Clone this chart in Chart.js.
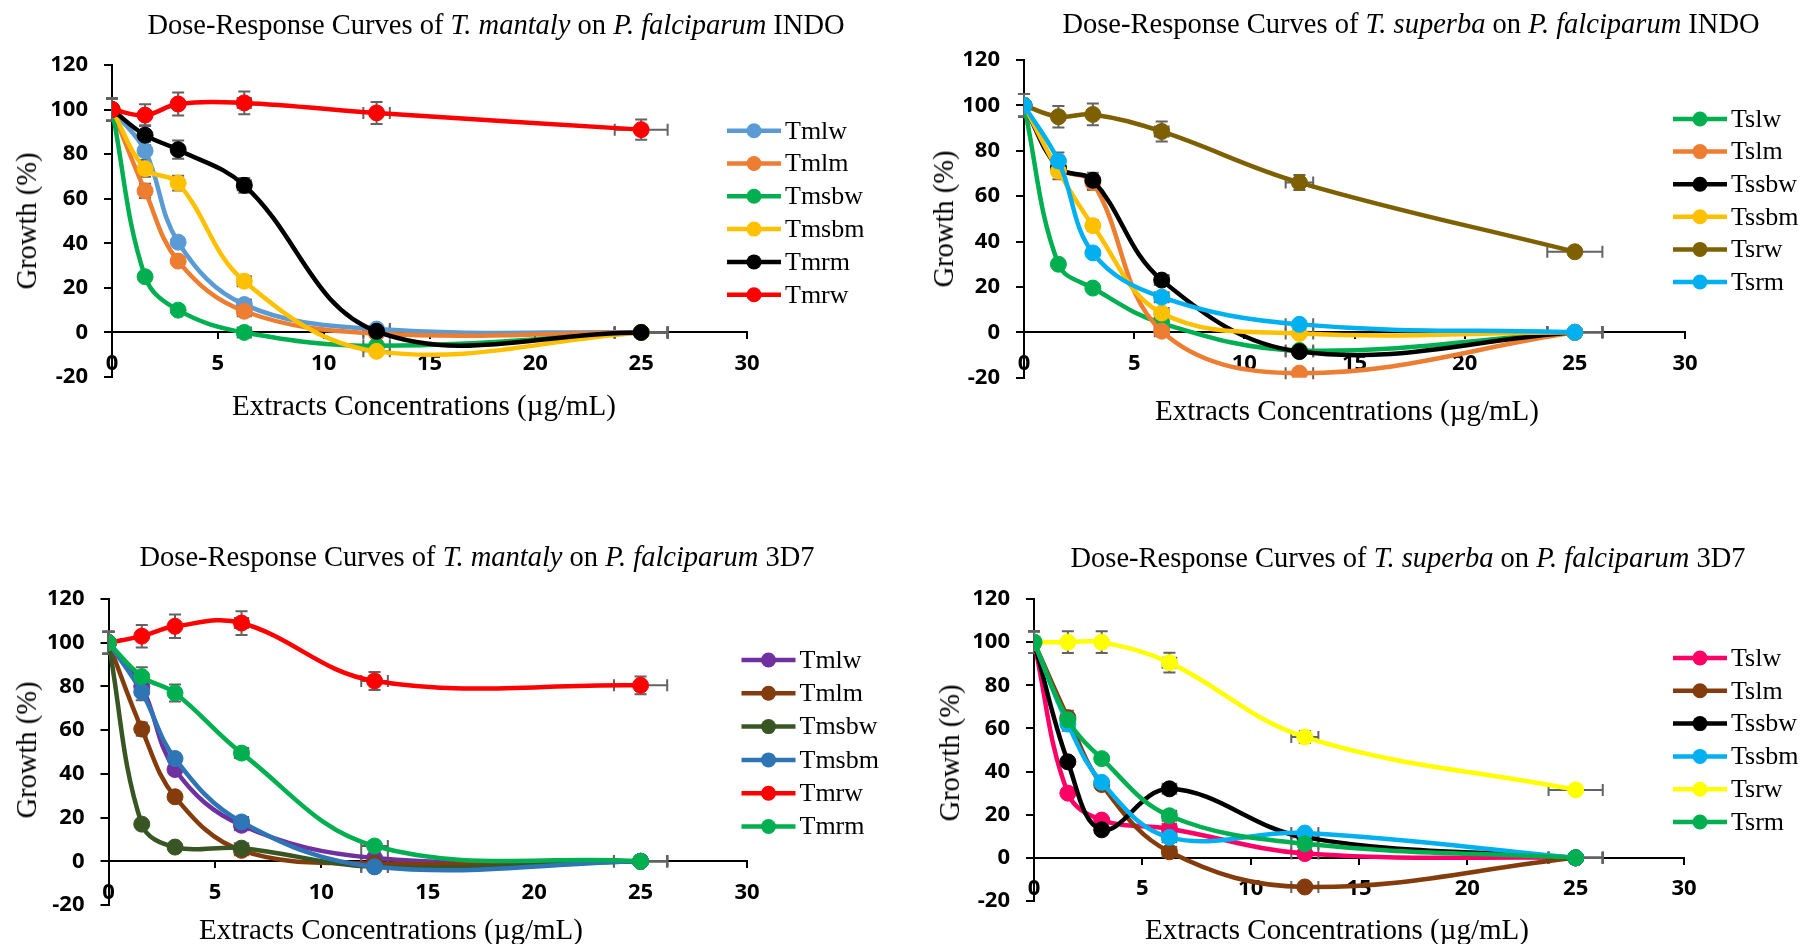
<!DOCTYPE html>
<html>
<head>
<meta charset="utf-8">
<script src="https://cdn.jsdelivr.net/npm/chart.js@4.4.1/dist/chart.umd.min.js"></script>
<style>
  body { margin: 0; width: 1803px; height: 944px; overflow: hidden; background: #fff; position: relative; }
  canvas { position: absolute; }
  .lbl { position: absolute; white-space: nowrap; font-family: "Liberation Serif", "Times New Roman", serif; font-size: 28.5px; line-height: 28px; color: #000; transform: translateX(-50%); }
  .xtitle { font-size: 29px; }
  .ytitle { transform: translate(-50%, -50%) rotate(-90deg); }
</style>
</head>
<body>
<canvas id="c1" width="900" height="470" style="left:0;top:0"></canvas>
<canvas id="c2" width="903" height="470" style="left:900px;top:0"></canvas>
<canvas id="c3" width="900" height="474" style="left:0;top:470px"></canvas>
<canvas id="c4" width="903" height="474" style="left:900px;top:470px"></canvas>

<div class="lbl" style="left:496px;top:11px">Dose-Response Curves of <i>T. mantaly</i> on <i>P. falciparum</i> INDO</div>
<div class="lbl" style="left:1411px;top:10px">Dose-Response Curves of <i>T. superba</i> on <i>P. falciparum</i> INDO</div>
<div class="lbl" style="left:477px;top:543px">Dose-Response Curves of <i>T. mantaly</i> on <i>P. falciparum</i> 3D7</div>
<div class="lbl" style="left:1408px;top:544px">Dose-Response Curves of <i>T. superba</i> on <i>P. falciparum</i> 3D7</div>

<div class="lbl xtitle" style="left:424px;top:391px">Extracts Concentrations (µg/mL)</div>
<div class="lbl xtitle" style="left:1347px;top:396px">Extracts Concentrations (µg/mL)</div>
<div class="lbl xtitle" style="left:391px;top:915px">Extracts Concentrations (µg/mL)</div>
<div class="lbl xtitle" style="left:1337px;top:915px">Extracts Concentrations (µg/mL)</div>

<div class="lbl ytitle" style="left:27px;top:221px">Growth (%)</div>
<div class="lbl ytitle" style="left:944px;top:219px">Growth (%)</div>
<div class="lbl ytitle" style="left:27px;top:750px">Growth (%)</div>
<div class="lbl ytitle" style="left:950px;top:753px">Growth (%)</div>

<script>
// Data
const concentrations = [0, 1.5625, 3.125, 6.25, 12.5, 25];
const xTickLabels = [0, 5, 10, 15, 20, 25, 30];
const yTickLabels = [-20, 0, 20, 40, 60, 80, 100, 120];

// T. mantaly on INDO
const mantalyIndoNames = ['Tmlw', 'Tmlm', 'Tmsbw', 'Tmsbm', 'Tmrm', 'Tmrw'];
const indoTmlw = [100, 81.5, 40.5, 12.5, 1.5, 0];
const indoTmlm = [100, 63.5, 32, 9.5, -0.5, 0];
const indoTmsbw = [100, 25, 10, 0, -6, 0];
const indoTmsbm = [100, 73.5, 67, 23, -8.5, 0];
const indoTmrm = [100, 88.5, 82, 66, 0.5, 0];
const indoTmrw = [100, 97.5, 102.5, 103, 98.5, 91];

// T. superba on INDO
const superbaIndoNames = ['Tslw', 'Tslm', 'Tssbw', 'Tssbm', 'Tsrw', 'Tsrm'];
const indoTslw = [100, 30, 19.5, 4, -8, 0];
const indoTslm = [100, 72.5, 66, 0.5, -18, 0];
const indoTssbw = [100, 72.5, 67, 23, -8.5, 0];
const indoTssbm = [100, 71, 47, 8.5, -0.5, 0];
const indoTsrw = [100, 95, 96, 88.5, 66, 35.5];
const indoTsrm = [100, 75.5, 35, 15.5, 3.5, 0];

// T. mantaly on 3D7
const mantaly3d7Names = ['Tmlw', 'Tmlm', 'Tmsbw', 'Tmsbm', 'Tmrw', 'Tmrm'];
const d7Tmlw = [100, 80, 42, 16.5, 1.5, 0];
const d7Tmlm = [100, 60.5, 29.5, 5, -1, 0];
const d7Tmsbw = [100, 17, 6.5, 6, -2.5, 0];
const d7Tmsbm = [100, 77.5, 47, 18, -2.5, 0];
const d7Tmrw = [100, 103, 107.5, 109, 82.5, 80.5];
const d7Tmrm = [100, 84.5, 77, 49.5, 7, 0];

// T. superba on 3D7
const superba3d7Names = ['Tslw', 'Tslm', 'Tssbw', 'Tssbm', 'Tsrw', 'Tsrm'];
const d7Tslw = [100, 30, 17.5, 13.5, 2, 0];
const d7Tslm = [100, 65, 34, 2.8, -13.5, 0];
const d7Tssbw = [100, 44.5, 13, 32, 9.5, 0];
const d7Tssbm = [100, 62, 35, 9.5, 11.5, 0];
const d7Tsrw = [100, 100, 100, 90.5, 56, 31.5];
const d7Tsrm = [100, 64, 46, 19.5, 6.5, 0];

const errorPercent = 5;

// layout of the four panels (page pixels)
const panels = [
    { canvas: 'c1', box: [0, 0, 900, 470], area: [112, 747, 65, 377], legend: [727, 130.7, 32.8],
      names: mantalyIndoNames, series: [indoTmlw, indoTmlm, indoTmsbw, indoTmsbm, indoTmrm, indoTmrw],
      colors: ['#5B9BD5', '#ED7D31', '#00B050', '#FFC000', '#000000', '#FF0000'] },
    { canvas: 'c2', box: [900, 0, 903, 470], area: [1024, 1685, 60, 377.7], legend: [1673, 119, 32.6],
      names: superbaIndoNames, series: [indoTslw, indoTslm, indoTssbw, indoTssbm, indoTsrw, indoTsrm],
      colors: ['#00B050', '#ED7D31', '#000000', '#FFC000', '#7F6000', '#00B0F0'] },
    { canvas: 'c3', box: [0, 470, 900, 474], area: [108.5, 747, 599, 905], legend: [741.5, 660, 33.3],
      names: mantaly3d7Names, series: [d7Tmlw, d7Tmlm, d7Tmsbw, d7Tmsbm, d7Tmrw, d7Tmrm],
      colors: ['#7030A0', '#843C0C', '#375623', '#2E75B6', '#FF0000', '#00B050'] },
    { canvas: 'c4', box: [900, 470, 903, 474], area: [1034, 1684, 599, 901], legend: [1673, 658, 32.8],
      names: superba3d7Names, series: [d7Tslw, d7Tslm, d7Tssbw, d7Tssbm, d7Tsrw, d7Tsrm],
      colors: ['#FF0066', '#843C0C', '#000000', '#00B0F0', '#FFFF00', '#00B050'] }
];

const Y_AXIS_WIDTH = 60;
const tickFont = { family: '"Open Sans", "Liberation Sans", sans-serif', size: 22, weight: 'bold' };

const errorBarPlugin = {
    id: 'errorBars',
    beforeDatasetsDraw(chart, args, opts) {
        const { ctx } = chart;
        const xs = chart.scales.x, ys = chart.scales.y;
        const cap = 6;
        ctx.save();
        ctx.strokeStyle = opts.color;
        ctx.lineWidth = 2;
        chart.data.datasets.forEach(ds => {
            ds.data.forEach(p => {
                const px = xs.getPixelForValue(p.x), py = ys.getPixelForValue(p.y);
                const ex = p.x * opts.percent / 100, ey = Math.abs(p.y) * opts.percent / 100;
                ctx.beginPath();
                if (ey > 0) {
                    const y1 = ys.getPixelForValue(p.y + ey), y2 = ys.getPixelForValue(p.y - ey);
                    ctx.moveTo(px, y1); ctx.lineTo(px, y2);
                    ctx.moveTo(px - cap, y1); ctx.lineTo(px + cap, y1);
                    ctx.moveTo(px - cap, y2); ctx.lineTo(px + cap, y2);
                }
                if (ex > 0) {
                    const x1 = xs.getPixelForValue(p.x - ex), x2 = xs.getPixelForValue(p.x + ex);
                    ctx.moveTo(x1, py); ctx.lineTo(x2, py);
                    ctx.moveTo(x1, py - cap); ctx.lineTo(x1, py + cap);
                    ctx.moveTo(x2, py - cap); ctx.lineTo(x2, py + cap);
                }
                ctx.stroke();
            });
        });
        ctx.restore();
    }
};

const sideLegendPlugin = {
    id: 'sideLegend',
    afterDraw(chart, args, opts) {
        const ctx = chart.ctx;
        ctx.save();
        ctx.font = '26px "Liberation Serif", "Times New Roman", serif';
        ctx.textBaseline = 'middle';
        chart.data.datasets.forEach((ds, i) => {
            const y = opts.y + i * opts.gap;
            ctx.strokeStyle = ds.borderColor;
            ctx.lineWidth = 4.5;
            ctx.beginPath();
            ctx.moveTo(opts.x, y);
            ctx.lineTo(opts.x + 54, y);
            ctx.stroke();
            ctx.fillStyle = ds.borderColor;
            ctx.beginPath();
            ctx.arc(opts.x + 27, y, 7.5, 0, Math.PI * 2);
            ctx.fill();
            ctx.fillStyle = '#000';
            ctx.fillText(ds.label, opts.x + 58, y + 1);
        });
        ctx.restore();
    }
};

function axisOptions(min, max, labels, tickLength, padding) {
    return {
        type: 'linear',
        min: min,
        max: max,
        afterBuildTicks: scale => { scale.ticks = labels.map(v => ({ value: v })); },
        grid: { drawOnChartArea: false, drawTicks: true, tickLength: tickLength, color: '#000', lineWidth: 2 },
        border: { display: true, color: '#000', width: 2 },
        ticks: { color: '#000', font: tickFont, padding: padding, autoSkip: false, maxRotation: 0 }
    };
}

document.addEventListener('DOMContentLoaded', function() {
    panels.forEach(p => {
        const [bx, by, bw, bh] = p.box;
        const [al, ar, at, ab] = p.area;
        const n = p.series.length;
        const datasets = p.series.map((vals, i) => ({
            label: p.names[i],
            data: concentrations.map((c, j) => ({ x: c, y: vals[j] })),
            borderColor: p.colors[i],
            backgroundColor: p.colors[i],
            pointBackgroundColor: p.colors[i],
            pointBorderColor: p.colors[i],
            order: n - 1 - i
        }));

        const xAxis = axisOptions(0, 30, xTickLabels, 6, 12);
        xAxis.position = { y: 0 };
        const yAxis = axisOptions(-20, 120, yTickLabels, 8, 16);
        yAxis.position = 'left';
        yAxis.afterFit = scale => { scale.width = Y_AXIS_WIDTH; };

        const ctx = document.getElementById(p.canvas).getContext('2d');
        new Chart(ctx, {
            type: 'line',
            data: { datasets: datasets },
            plugins: [errorBarPlugin, sideLegendPlugin],
            options: {
                responsive: false,
                animation: false,
                devicePixelRatio: 1,
                layout: {
                    padding: {
                        left: al - bx - Y_AXIS_WIDTH,
                        right: bx + bw - ar,
                        top: at - by,
                        bottom: by + bh - ab
                    }
                },
                elements: {
                    line: { tension: 0.38, borderWidth: 4.5 },
                    point: { radius: 8, hoverRadius: 8, borderWidth: 1 }
                },
                plugins: {
                    legend: { display: false },
                    tooltip: { enabled: false },
                    errorBars: { percent: errorPercent, color: '#636363' },
                    sideLegend: { x: p.legend[0] - bx, y: p.legend[1] - by, gap: p.legend[2] }
                },
                scales: { x: xAxis, y: yAxis }
            }
        });
    });
});
</script>
</body>
</html>
